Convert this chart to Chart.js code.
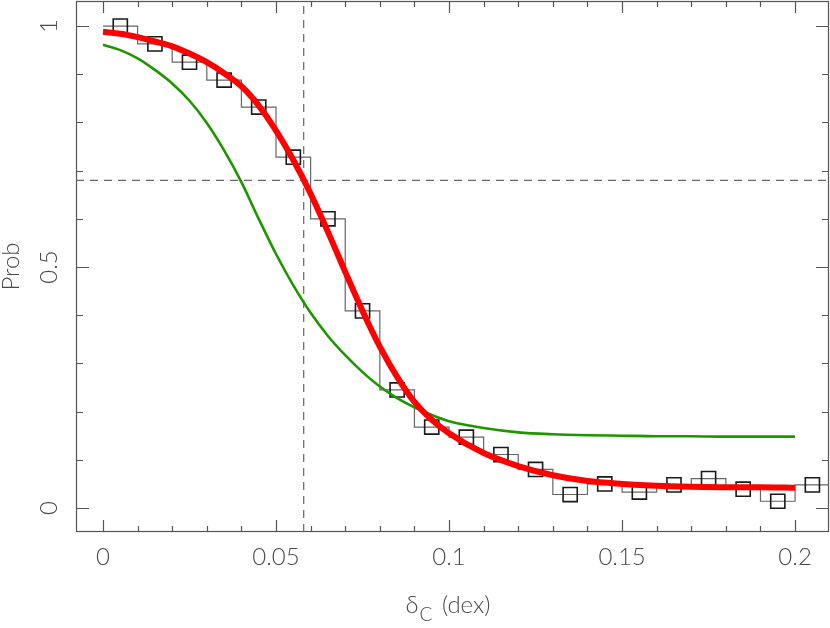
<!DOCTYPE html>
<html>
<head>
<meta charset="utf-8">
<script src="https://cdn.jsdelivr.net/npm/chart.js@4/dist/chart.umd.min.js"></script>
<style>
  html, body { margin: 0; padding: 0; background: #fff; }
  #wrap { width: 830px; height: 628px; }
</style>
</head>
<body>
<div id="wrap"><canvas id="grafico" width="830" height="628"></canvas></div>
<script>
// histograma (centros de bin 0.01) y valores de los cuadrados
const binCenters = [0.005, 0.015, 0.025, 0.035, 0.045, 0.055, 0.065, 0.075, 0.085, 0.095, 0.105,
                    0.115, 0.125, 0.135, 0.145, 0.155, 0.165, 0.175, 0.185, 0.195, 0.205];
const histValues = [1.0, 0.963, 0.925, 0.888, 0.832, 0.728, 0.600, 0.409, 0.245, 0.168, 0.147,
                    0.111, 0.080, 0.028, 0.050, 0.033, 0.048, 0.061, 0.039, 0.014, 0.048];
const binWidth = 0.01;

// curvas de ajuste (paso 0.005 hasta 0.1, luego 0.01)
const curveX = [0, 0.005, 0.01, 0.015, 0.02, 0.025, 0.03, 0.035, 0.04, 0.045, 0.05,
                0.055, 0.06, 0.065, 0.07, 0.075, 0.08, 0.085, 0.09, 0.095, 0.10,
                0.11, 0.12, 0.13, 0.14, 0.15, 0.16, 0.17, 0.18, 0.19, 0.20];
const redCurve = [0.988, 0.984, 0.977, 0.968, 0.958, 0.943, 0.925, 0.902, 0.875, 0.835, 0.783,
                  0.722, 0.652, 0.573, 0.490, 0.409, 0.335, 0.272, 0.220, 0.183, 0.155,
                  0.114, 0.087, 0.068, 0.056, 0.050, 0.046, 0.044, 0.043, 0.043, 0.042];
const greenCurve = [0.961, 0.950, 0.933, 0.909, 0.881, 0.845, 0.799, 0.742, 0.676, 0.600, 0.527,
                    0.462, 0.405, 0.357, 0.317, 0.282, 0.252, 0.228, 0.209, 0.193, 0.180,
                    0.166, 0.157, 0.153, 0.151, 0.150, 0.149, 0.149, 0.148, 0.148, 0.148];

// lineas de referencia
const cutX = 0.058;
const cutY = 0.68;

// ticks
const xMajor = [0, 0.05, 0.1, 0.15, 0.2];
const xLabels = ["0", "0.05", "0.1", "0.15", "0.2"];
const yMajor = [0, 0.5, 1];
const yLabels = ["0", "0.5", "1"];

const X_MIN = -0.0078, X_MAX = 0.2098;
const Y_MIN = -0.0498, Y_MAX = 1.052;

const pts = (xs, ys) => xs.map((x, i) => ({ x: x, y: ys[i] }));

// escalones: borde izquierdo de cada bin + borde final
const stepData = binCenters.map((c, i) => ({ x: c - binWidth / 2, y: histValues[i] }));
stepData.push({ x: binCenters[binCenters.length - 1] + binWidth / 2, y: histValues[histValues.length - 1] });

const FONT = "300 24px Lato, 'Liberation Sans', sans-serif";
const TXT = "#4a4a4a";

const marcoPlugin = {
  id: "marco",
  beforeDatasetsDraw(chart) {
    const { ctx, chartArea: a, scales: { x, y } } = chart;
    ctx.save();
    ctx.strokeStyle = "#555";
    ctx.lineWidth = 1.2;
    ctx.strokeRect(a.left + 0.5, a.top + 0.5, a.right - a.left - 1, a.bottom - a.top - 1);
    ctx.beginPath();
    for (let i = 0; i <= 20; i++) {
      const v = i * 0.01;
      const px = Math.round(x.getPixelForValue(v)) + 0.5;
      const len = (i % 5 === 0) ? 12 : 6;
      ctx.moveTo(px, a.bottom); ctx.lineTo(px, a.bottom - len);
      ctx.moveTo(px, a.top); ctx.lineTo(px, a.top + len);
    }
    for (let i = 0; i <= 10; i++) {
      const v = i * 0.1;
      const py = Math.round(y.getPixelForValue(v)) + 0.5;
      const len = (i % 5 === 0) ? 13 : 7;
      ctx.moveTo(a.left, py); ctx.lineTo(a.left + len, py);
      ctx.moveTo(a.right, py); ctx.lineTo(a.right - len, py);
    }
    ctx.stroke();
    ctx.restore();
  },
  afterDraw(chart) {
    const { ctx, chartArea: a, scales: { x, y } } = chart;
    ctx.save();
    ctx.fillStyle = TXT;
    ctx.font = FONT;
    ctx.textAlign = "center";
    ctx.textBaseline = "middle";
    xMajor.forEach((v, i) => ctx.fillText(xLabels[i], x.getPixelForValue(v), 557));
    yMajor.forEach((v, i) => {
      ctx.save();
      ctx.translate(49, y.getPixelForValue(v));
      ctx.rotate(-Math.PI / 2);
      ctx.fillText(yLabels[i], 0, 0);
      ctx.restore();
    });
    // titulo eje y
    ctx.save();
    ctx.translate(11, (a.top + a.bottom) / 2);
    ctx.rotate(-Math.PI / 2);
    ctx.fillText("Prob", 0, 0);
    ctx.restore();
    // titulo eje x: δ_C (dex)
    ctx.textAlign = "left";
    ctx.textBaseline = "alphabetic";
    const fSub = "300 19px Lato, 'Liberation Sans', sans-serif";
    const w1 = ctx.measureText("δ").width;
    ctx.font = fSub;
    const w2 = ctx.measureText("C").width;
    ctx.font = FONT;
    const w3 = ctx.measureText(" (dex)").width;
    let cx = 448 - (w1 + w2 + w3 + 4) / 2;
    ctx.fillText("δ", cx, 613);
    cx += w1 + 1;
    ctx.font = fSub;
    ctx.fillText("C", cx, 621);
    cx += w2 + 3;
    ctx.font = FONT;
    ctx.fillText(" (dex)", cx, 613);
    ctx.restore();
  }
};

new Chart(document.getElementById("grafico"), {
  type: "scatter",
  data: {
    datasets: [
      {
        label: "ajuste",
        type: "line",
        data: pts(curveX, redCurve),
        borderColor: "#ff0000",
        borderWidth: 6,
        pointRadius: 0,
        cubicInterpolationMode: "monotone",
        fill: false
      },
      {
        label: "modelo",
        type: "line",
        data: pts(curveX, greenCurve),
        borderColor: "#1e9600",
        borderWidth: 2.6,
        pointRadius: 0,
        cubicInterpolationMode: "monotone",
        fill: false
      },
      {
        label: "datos",
        data: pts(binCenters, histValues),
        pointStyle: "rect",
        pointRadius: 10,
        backgroundColor: "rgba(0,0,0,0)",
        borderColor: "#1a1a1a",
        borderWidth: 1.6,
        showLine: false
      },
      {
        label: "histograma",
        type: "line",
        data: stepData,
        stepped: "before",
        borderColor: "#666",
        borderWidth: 1.2,
        pointRadius: 0,
        fill: false
      },
      {
        label: "corte x",
        type: "line",
        data: [{ x: cutX, y: Y_MIN }, { x: cutX, y: Y_MAX }],
        borderColor: "#666",
        borderWidth: 1.2,
        borderDash: [8, 6],
        pointRadius: 0
      },
      {
        label: "corte y",
        type: "line",
        data: [{ x: X_MIN, y: cutY }, { x: X_MAX, y: cutY }],
        borderColor: "#666",
        borderWidth: 1.2,
        borderDash: [8, 6],
        pointRadius: 0
      }
    ]
  },
  options: {
    responsive: false,
    animation: false,
    layout: { autoPadding: false, padding: { left: 76, top: 1, right: 1, bottom: 96 } },
    plugins: { legend: { display: false }, tooltip: { enabled: false } },
    scales: {
      x: { type: "linear", min: X_MIN, max: X_MAX, display: false },
      y: { type: "linear", min: Y_MIN, max: Y_MAX, display: false }
    }
  },
  plugins: [marcoPlugin]
});
</script>
</body>
</html>
